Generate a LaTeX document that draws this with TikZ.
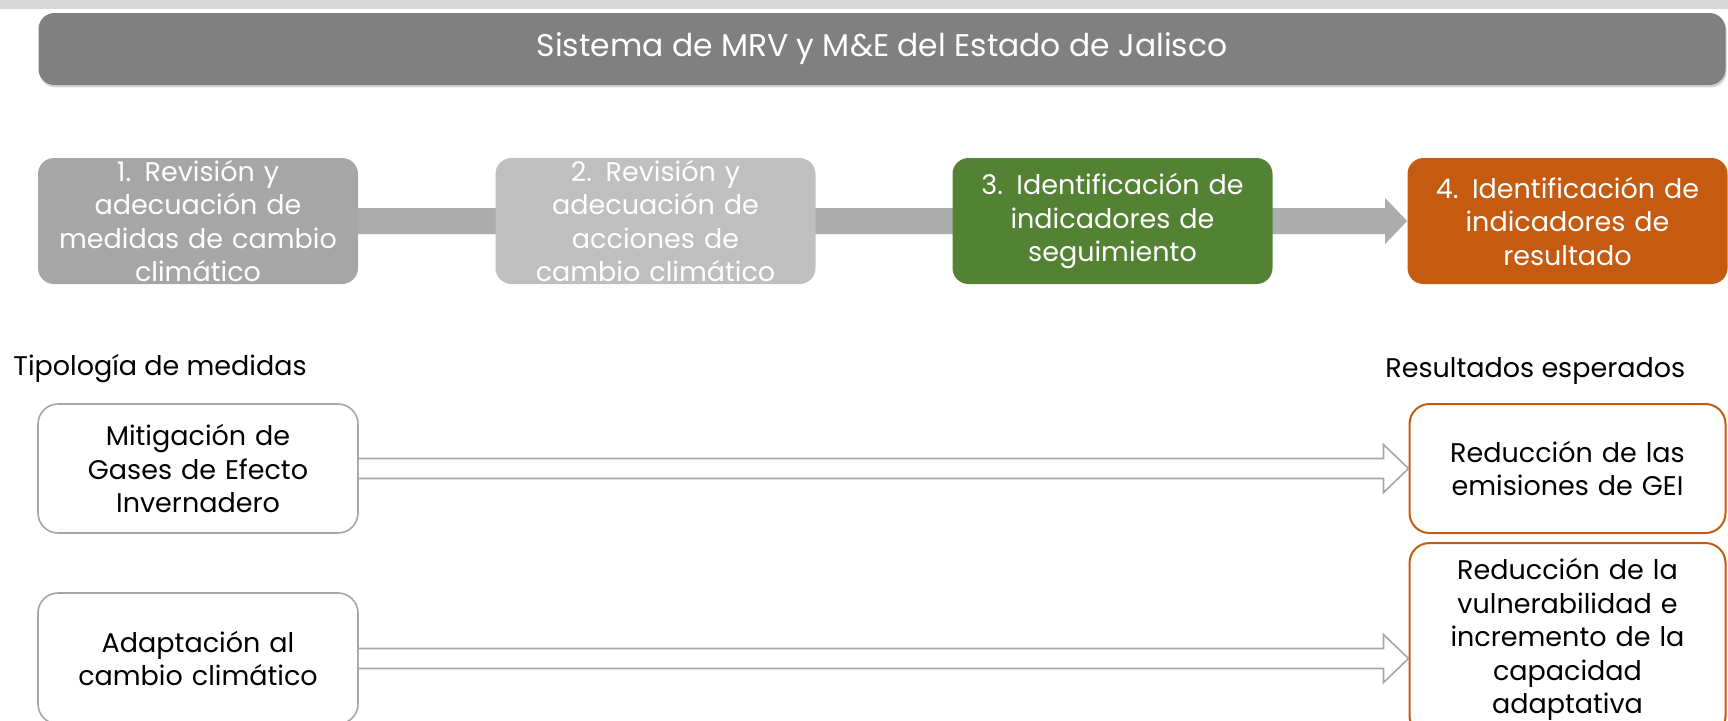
\documentclass[tikz,border=0pt]{standalone}
\usepackage{fontspec}
\setmainfont{Poppins}
\usetikzlibrary{calc, backgrounds, shadows}

\definecolor{bandgray}{RGB}{217,217,217}
\definecolor{titlegray}{RGB}{128,128,128}
\definecolor{stepdark}{RGB}{166,166,166}
\definecolor{steplight}{RGB}{191,191,191}
\definecolor{stepgreen}{RGB}{84,130,53}
\definecolor{steporange}{RGB}{197,90,17}
\definecolor{bargray}{RGB}{172,172,172}
\definecolor{linegray}{RGB}{166,166,166}

\tikzset{
  boxtext/.style={align=center, inner sep=0pt, font=\fontsize{13.5}{16.75}\selectfont},
  stepbox/.style={boxtext, rounded corners=8pt, minimum width=160pt, minimum height=63pt, text width=156pt, text=white},
  typebox/.style={boxtext, rounded corners=10pt, draw=linegray, line width=0.8pt, fill=white, minimum width=160pt, text width=150pt},
  resultbox/.style={boxtext, rounded corners=10pt, draw=steporange, line width=1pt, fill=white, minimum width=158pt, text width=150pt},
  hollowarrow/.style={draw=linegray, line width=0.8pt, fill=white, line join=miter}
}

\begin{document}
\begin{tikzpicture}[x=0.5pt, y=-0.5pt]
\useasboundingbox (0,0) rectangle (1728,720);
\clip (0,0) rectangle (1728,720);

%top band and title
\fill[bandgray] (0,0) rectangle (1728,9);
\node[boxtext, font=\fontsize{15.7}{18}\selectfont, fill=titlegray, text=white, rounded corners=8pt, minimum width=843.5pt, minimum height=36pt,
  drop shadow={shadow xshift=0.6pt, shadow yshift=-1.2pt, opacity=0.35}] (title) at (882,49) {Sistema de MRV y M\&E del Estado de Jalisco};

%the four steps
\node[stepbox, fill=stepdark] (s1) at (198,221) {1. Revisión y\\adecuación de\\medidas de cambio\\climático};
\node[stepbox, fill=steplight] (s2) at (655.5,221) {2. Revisión y\\adecuación de\\acciones de\\cambio climático};
\node[stepbox, fill=stepgreen] (s3) at (1112.5,221) {3. Identificación de\\indicadores de\\seguimiento};
\node[stepbox, fill=steporange] (s4) at (1567.5,221) {4. Identificación de\\indicadores de\\resultado};

%bar behind the steps
\begin{pgfonlayer}{background}
\fill[bargray] ($(s1.east)+(-5,-13)$) -- ($(s4.west)+(-22,-13)$) -- ($(s4.west)+(-22,-23)$) -- (s4.west)
  -- ($(s4.west)+(-22,23)$) -- ($(s4.west)+(-22,13)$) -- ($(s1.east)+(-5,13)$) -- cycle;
\end{pgfonlayer}

%headings
\node[boxtext, anchor=west] (tipo) at (13,369) {Tipología de medidas};
\node[boxtext, anchor=west] (resu) at (1385,371) {Resultados esperados};

%measure types and results
\node[typebox, minimum height=64.5pt] (mit) at (198,468.5) {Mitigación de\\Gases de Efecto\\Invernadero};
\node[typebox, minimum height=65.5pt] (adap) at (198,658.5) {Adaptación al\\cambio climático};
\node[resultbox, minimum height=64.5pt] (res1) at (1567.5,468.5) {Reducción de las\\emisiones de GEI};
\node[resultbox, minimum height=96.5pt] (res2) at (1567.5,639.5) {Reducción de la\\vulnerabilidad e\\incremento de la\\capacidad\\adaptativa};

%hollow arrows
\foreach \a/\b in {mit/res1, adap/res2}{
  \coordinate (tip) at (\b.west |- \a.east);
  \draw[hollowarrow] ($(\a.east)+(0,-10)$) -- ($(tip)+(-25,-10)$) -- ($(tip)+(-25,-24)$) -- (tip)
    -- ($(tip)+(-25,24)$) -- ($(tip)+(-25,10)$) -- ($(\a.east)+(0,10)$);
}

\end{tikzpicture}
\end{document}
